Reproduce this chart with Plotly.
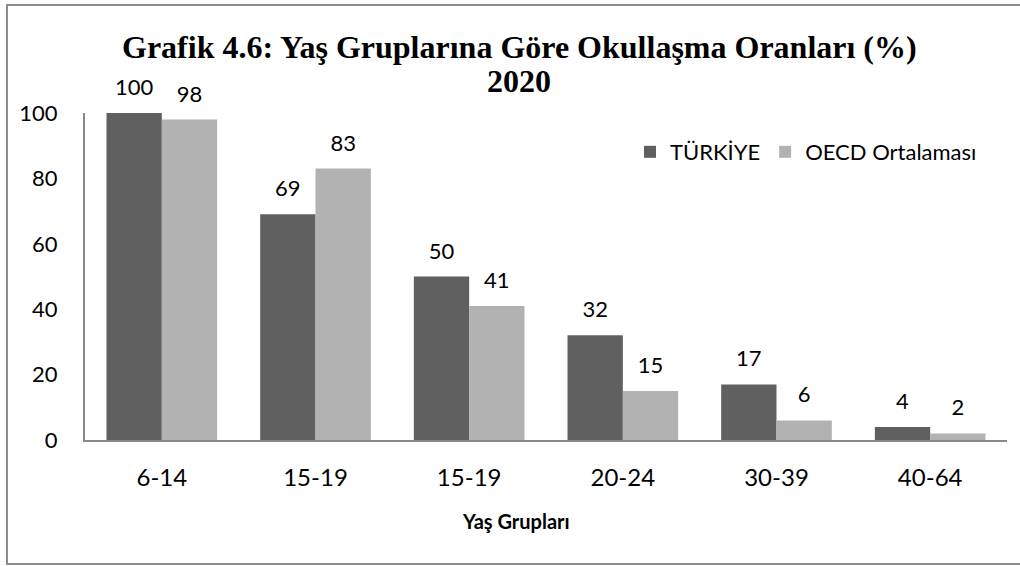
import plotly.graph_objects as go

categories = ["6-14", "15-19", "15-19", "20-24", "30-39", "40-64"]
turkiye = [100, 69, 50, 32, 17, 4]
oecd = [98, 83, 41, 15, 6, 2]
y_ticks = [0, 20, 40, 60, 80, 100]
x_title = "Yaş Grupları"

W, H = 1020, 566
ml, mr, mt, mb = 85, 13, 113, 126
pw, ph = W - ml - mr, H - mt - mb

def px_x(p):
    return (p - ml) / pw

def px_y(p):
    return (H - mb - p) / ph

SANS = "Lato, Open Sans, sans-serif"
SERIF = "Liberation Serif, Times New Roman, serif"
xs = list(range(len(categories)))

def lbl(v):
    return f"<span style='font-size:22px'>{v}</span><br> "

fig = go.Figure()
fig.add_trace(go.Bar(
    x=xs, y=turkiye, name="TÜRKİYE", marker=dict(color="#606060", line=dict(width=0)),
    text=[lbl(v) for v in turkiye],
    textposition="outside", textfont=dict(family=SANS, size=10, color="#000000"), cliponaxis=False,
))
fig.add_trace(go.Bar(
    x=xs, y=oecd, name="OECD Ortalaması", marker=dict(color="#b2b2b2", line=dict(width=0)),
    text=[lbl(v) for v in oecd],
    textposition="outside", textfont=dict(family=SANS, size=10, color="#000000"), cliponaxis=False,
))

fig.update_layout(
    width=W, height=H,
    margin=dict(l=ml, r=mr, t=mt, b=mb),
    paper_bgcolor="white", plot_bgcolor="white",
    barmode="group", bargap=0.28, bargroupgap=0,
    font=dict(family=SANS, size=21, color="#000000"),
    legend=dict(
        orientation="h", x=px_x(630), y=px_y(152), xanchor="left", yanchor="middle",
        font=dict(family=SANS, size=22, color="#000000"),
        bgcolor="rgba(0,0,0,0)", itemwidth=30, traceorder="normal",
    ),
    xaxis=dict(
        tickmode="array", tickvals=xs, ticktext=categories, range=[-0.5, len(categories) - 0.5],
        showline=True, linecolor="#888888", linewidth=2, ticks="", showgrid=False,
        ticklabelstandoff=15, tickfont=dict(family=SANS, size=24, color="#000000"), automargin=False,
    ),
    yaxis=dict(
        range=[0, 100], tickvals=y_ticks, showline=True, linecolor="#888888", linewidth=2,
        ticks="", showgrid=False, zeroline=False, ticklabelstandoff=21,
        tickfont=dict(family=SANS, size=22, color="#000000"), automargin=False,
    ),
    annotations=[
        dict(text="<b>Grafik 4.6: Yaş Gruplarına Göre Okullaşma Oranları (%)</b>",
             xref="paper", yref="paper", x=px_x(519), y=px_y(47), xanchor="center", yanchor="middle",
             showarrow=False, font=dict(family=SERIF, size=32, color="#000000")),
        dict(text="<b>2020</b>",
             xref="paper", yref="paper", x=px_x(519), y=px_y(81), xanchor="center", yanchor="middle",
             showarrow=False, font=dict(family=SERIF, size=32, color="#000000")),
        dict(text=f"<b>{x_title}</b>",
             xref="paper", yref="paper", x=px_x(516), y=px_y(521), xanchor="center", yanchor="middle",
             showarrow=False, font=dict(family=SANS, size=20, color="#000000")),
    ],
    shapes=[dict(
        type="rect", xref="paper", yref="paper",
        x0=px_x(7), x1=px_x(1030), y0=px_y(564), y1=px_y(5),
        line=dict(color="#8c8c8c", width=2), fillcolor="rgba(0,0,0,0)", layer="below",
    )],
)

fig.write_html("out.html", config={"displayModeBar": False},
               post_script="document.body.style.margin='0';")
